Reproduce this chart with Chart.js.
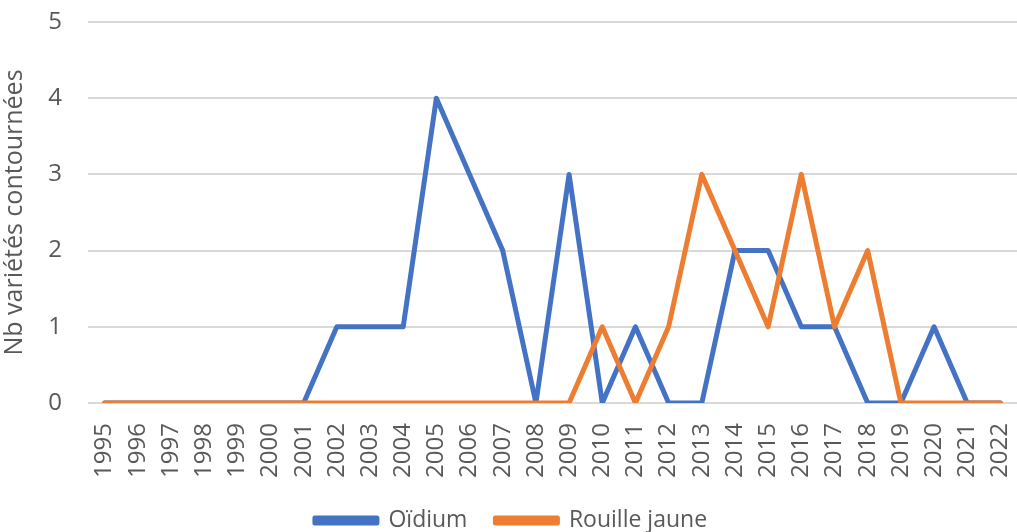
<!DOCTYPE html>
<html><head><meta charset="utf-8">
<script src="https://cdn.jsdelivr.net/npm/chart.js@4.4.0/dist/chart.umd.min.js"></script>
<style>html,body{margin:0;padding:0;background:#fff}#wrap{width:1017px;height:532px}</style>
</head><body><div id="wrap"><canvas id="c" width="1017" height="532"></canvas></div>
<script>
const years = ["1995","1996","1997","1998","1999","2000","2001","2002","2003","2004","2005","2006","2007","2008","2009","2010","2011","2012","2013","2014","2015","2016","2017","2018","2019","2020","2021","2022"];
const oidium = [0,0,0,0,0,0,0,1,1,1,4,3,2,0,3,0,1,0,0,2,2,1,1,0,0,1,0,0];
const rouilleJaune = [0,0,0,0,0,0,0,0,0,0,0,0,0,0,0,1,0,1,3,2,1,3,1,2,0,0,0,0];
const yTicks = [0,1,2,3,4,5];
const FONT = "'Open Sans', 'Liberation Sans', sans-serif";
const TXT = '#595959';
new Chart(document.getElementById('c'), {
  type: 'line',
  data: {
    labels: years,
    datasets: [
      {label: 'Oïdium', data: oidium, order: 1, borderColor: '#4472C4', backgroundColor: '#4472C4', borderWidth: 5, pointRadius: 0, borderJoinStyle: 'round', borderCapStyle: 'round', tension: 0},
      {label: 'Rouille jaune', data: rouilleJaune, order: 0, borderColor: '#ED7D31', backgroundColor: '#ED7D31', borderWidth: 5, pointRadius: 0, borderJoinStyle: 'round', borderCapStyle: 'round', tension: 0}
    ]
  },
  options: {
    responsive: false,
    animation: false,
    layout: {padding: {top: 22, right: -5, left: 0, bottom: -10}},
    plugins: {
      tooltip: {enabled: false},
      legend: {
        position: 'bottom',
        labels: {
          font: {family: FONT, size: 23}, color: TXT,
          boxWidth: 62, boxHeight: 5, padding: 28,
          sort: (a, b) => a.datasetIndex - b.datasetIndex
        }
      }
    },
    scales: {
      x: {
        offset: true,
        grid: {display: false, drawTicks: false},
        border: {display: false},
        ticks: {font: {family: FONT, size: 24}, color: TXT, minRotation: 90, maxRotation: 90, padding: 20, autoSkip: false},
        afterFit: s => { s.height = 78; s.paddingLeft = 0; s.paddingRight = 0; }
      },
      y: {
        min: 0, max: 5,
        afterBuildTicks: s => { s.ticks = yTicks.map(v => ({value: v})); },
        grid: {color: '#d9d9d9', lineWidth: 2, drawTicks: false},
        border: {display: false},
        ticks: {font: {family: FONT, size: 24}, color: TXT, padding: 26},
        title: {display: true, text: 'Nb variétés contournées', font: {family: FONT, size: 25}, color: TXT, padding: 0},
        afterFit: s => { s.width = 88; s.paddingTop = 0; s.paddingBottom = 0; }
      }
    }
  }
});
</script></body></html>
